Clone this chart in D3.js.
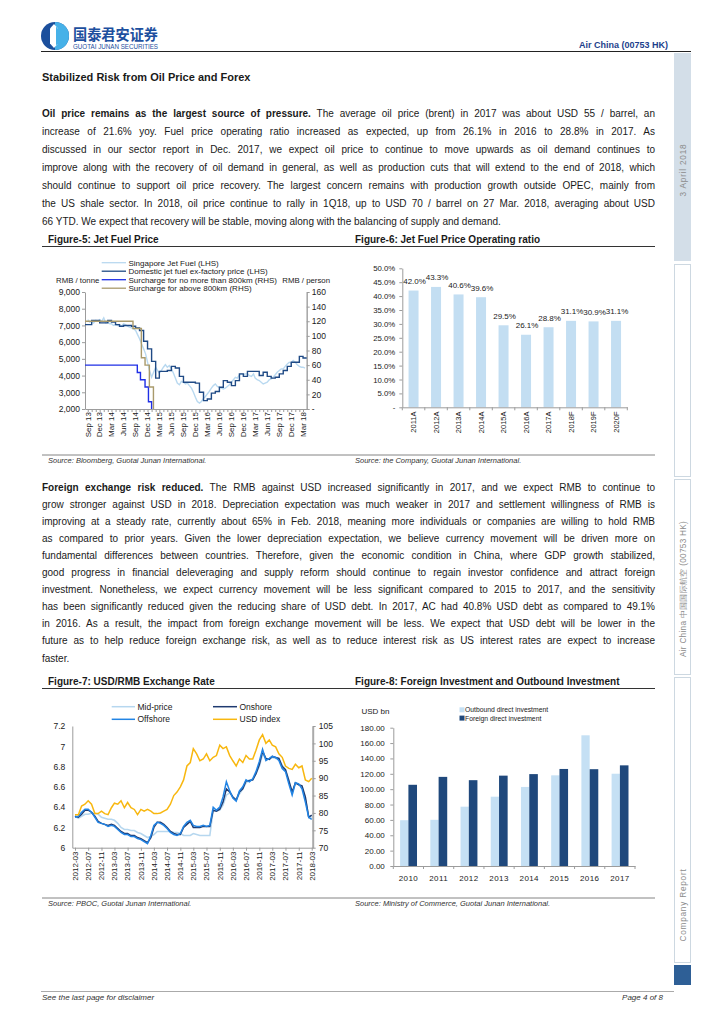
<!DOCTYPE html>
<html><head><meta charset="utf-8">
<script src="https://cdn.jsdelivr.net/npm/d3@7"></script>
<style>
html,body{margin:0;padding:0;background:#fff;}
svg{display:block;font-family:'Liberation Sans',Arial,Helvetica,sans-serif;}
text{white-space:pre;}
</style></head><body>
<svg id="page" width="724" height="1024"></svg>
<script>
// ================= DATA =================
// Figure-5: Jet fuel price
const f5TickLabels = ["Sep 13","Dec 13","Mar 14","Jun 14","Sep 14","Dec 14","Mar 15","Jun 15","Sep 15","Dec 15","Mar 16","Jun 16","Sep 16","Dec 16","Mar 17","Jun 17","Sep 17","Dec 17","Mar 18"];
// Singapore jet fuel (LHS), RMB/tonne, two readings per month (1st, 16th) from Sep 2013
const sgJetFuel = [7350,7200, 7250,7150, 7300,7250, 7350,7250, 7450,7150, 7200,7100, 7100,7000, 7050,7000, 7050,6950, 7100,7050, 6950,6900, 6850,6800,
  6700,6450, 6200,5900, 5600,5300, 4800,4300, 3900,4200, 4500,4300, 4150,4300, 4500,4650, 4500,4600, 4400,4150, 3850,3550, 3450,3650,
  3600,3500, 3550,3400, 3250,3000, 2700,2450, 2350,2450, 2650,2750, 2900,3050, 3250,3400, 3500,3350, 3300,3250, 3200,3250, 3350,3450,
  3600,3750, 3900,3850, 4050,4100, 4050,4100, 4100,4000, 3950,4100, 3850,3750, 3700,3600, 3500,3550, 3600,3750, 3800,3900, 4050,4200,
  4300,4400, 4400,4550, 4700,4800, 4750,4900, 4800,4650, 4550,4500, 4500,4450];
// Domestic jet fuel ex-factory price (LHS), monthly from Sep 2013
const domesticJetFuel = [7050,7300,7300,7150,7150,7300,7200,7050,6950,7000,7000,6950,6850,6700,6050,5600,4850,3850,4250,4250,
  4300,4550,4450,3950,3600,3600,3600,3550,3000,2500,2600,2950,3050,3300,3700,3600,3400,3700,4100,3950,
  4250,4250,4250,4000,4200,3950,3850,3900,4100,4300,4550,4800,4800,5150,5050];
// Fuel surcharges (RHS), RMB/person, step changes
const surchargeShortDates = ["2013-08-11","2014-09-14","2014-10-08","2014-11-12","2014-12-08","2015-01-01"];
const surchargeShort = [60,50,40,30,10,0];
const surchargeLongDates = ["2013-08-11","2014-08-12","2014-10-15","2014-11-12","2014-12-15","2015-01-15"];
const surchargeLong = [120,110,70,60,30,0];

// Figure-6: Jet fuel price operating ratio (%)
const f6Years = ["2011A","2012A","2013A","2014A","2015A","2016A","2017A","2018F","2019F","2020F"];
const f6Ratio = [42.0,43.3,40.6,39.6,29.5,26.1,28.8,31.1,30.9,31.1];

// Figure-7: USD/RMB exchange rate, monthly from Mar 2012 to Mar 2018
const f7TickLabels = ["2012-03","2012-07","2012-11","2013-03","2013-07","2013-11","2014-03","2014-07","2014-11","2015-03","2015-07","2015-11","2016-03","2016-07","2016-11","2017-03","2017-07","2017-11","2018-03"];
const midPrice = [6.31,6.29,6.31,6.33,6.33,6.34,6.34,6.33,6.30,6.29,6.28,6.28,6.27,6.24,6.20,6.18,6.18,6.17,6.17,6.15,6.14,6.12,6.10,6.11,
  6.13,6.16,6.16,6.16,6.16,6.16,6.15,6.15,6.14,6.12,6.12,6.12,6.14,6.13,6.12,6.12,6.12,6.12,6.37,6.36,6.37,6.42,6.52,6.54,
  6.50,6.47,6.53,6.58,6.64,6.67,6.67,6.73,6.80,6.92,6.88,6.87,6.89,6.88,6.88,6.81,6.77,6.67,6.53,6.64,6.62,6.60,6.48,6.31,6.30];
const onshore = [6.31,6.30,6.33,6.37,6.37,6.35,6.31,6.26,6.24,6.23,6.22,6.23,6.22,6.19,6.16,6.14,6.14,6.12,6.12,6.10,6.09,6.07,6.05,6.10,
  6.20,6.25,6.25,6.23,6.20,6.16,6.14,6.13,6.13,6.20,6.23,6.26,6.20,6.20,6.20,6.21,6.21,6.21,6.37,6.36,6.38,6.45,6.58,6.55,
  6.50,6.47,6.55,6.58,6.66,6.66,6.67,6.73,6.82,6.95,6.88,6.87,6.90,6.89,6.88,6.80,6.77,6.66,6.55,6.64,6.62,6.61,6.50,6.30,6.32];
const offshore = [6.30,6.31,6.35,6.38,6.38,6.35,6.30,6.25,6.24,6.23,6.21,6.22,6.21,6.18,6.15,6.13,6.13,6.11,6.11,6.09,6.08,6.06,6.04,6.12,
  6.22,6.25,6.24,6.22,6.19,6.15,6.13,6.12,6.14,6.21,6.25,6.27,6.22,6.21,6.21,6.22,6.21,6.22,6.40,6.37,6.40,6.50,6.65,6.56,
  6.49,6.46,6.56,6.60,6.67,6.65,6.68,6.75,6.85,6.97,6.86,6.88,6.90,6.89,6.86,6.78,6.75,6.63,6.52,6.64,6.63,6.58,6.45,6.30,6.28];
const usdIndex = [79.5,79.5,82.0,82.5,83.5,82.5,79.8,79.8,80.5,79.8,79.5,81.5,82.8,82.5,83.5,81.5,83.0,81.5,81.0,79.5,81.0,80.5,81.0,80.5,
  79.8,79.8,80.0,80.5,81.0,82.5,85.0,86.0,87.5,89.5,93.5,94.5,98.5,97.0,95.0,95.5,97.0,95.0,96.0,96.5,99.5,98.5,99.0,96.5,
  95.0,93.5,95.5,94.5,96.5,95.5,95.5,98.0,101.0,102.5,100.0,101.0,99.5,99.0,97.0,96.0,93.5,92.8,92.5,94.0,93.0,93.5,89.5,89.0,90.0];

// Figure-8: Foreign investment and outbound investment (USD bn)
const f8Years = ["2010","2011","2012","2013","2014","2015","2016","2017"];
const outboundDI = [59.6,60.1,77.2,90.2,102.9,118.0,170.1,120.1];
const foreignDI = [105.7,116.0,111.7,117.6,119.6,126.3,126.0,131.0];

// Text
const para1 = [
 {b:"Oil price remains as the largest source of pressure.", t:" The average oil price (brent) in 2017 was about USD 55 / barrel, an"},
 {t:"increase of 21.6% yoy. Fuel price operating ratio increased as expected, up from 26.1% in 2016 to 28.8% in 2017. As"},
 {t:"discussed in our sector report in Dec. 2017, we expect oil price to continue to move upwards as oil demand continues to"},
 {t:"improve along with the recovery of oil demand in general, as well as production cuts that will extend to the end of 2018, which"},
 {t:"should continue to support oil price recovery. The largest concern remains with production growth outside OPEC, mainly from"},
 {t:"the US shale sector. In 2018, oil price continue to rally in 1Q18, up to USD 70 / barrel on 27 Mar. 2018, averaging about USD"},
 {t:"66 YTD. We expect that recovery will be stable, moving along with the balancing of supply and demand."}
];
const para2 = [
 {b:"Foreign exchange risk reduced.", t:" The RMB against USD increased significantly in 2017, and we expect RMB to continue to"},
 {t:"grow stronger against USD in 2018. Depreciation expectation was much weaker in 2017 and settlement willingness of RMB is"},
 {t:"improving at a steady rate, currently about 65% in Feb. 2018, meaning more individuals or companies are willing to hold RMB"},
 {t:"as compared to prior years. Given the lower depreciation expectation, we believe currency movement will be driven more on"},
 {t:"fundamental differences between countries. Therefore, given the economic condition in China, where GDP growth stabilized,"},
 {t:"good progress in financial deleveraging and supply reform should continue to regain investor confidence and attract foreign"},
 {t:"investment. Nonetheless, we expect currency movement will be less significant compared to 2015 to 2017, and the sensitivity"},
 {t:"has been significantly reduced given the reducing share of USD debt. In 2017, AC had 40.8% USD debt as compared to 49.1%"},
 {t:"in 2016. As a result, the impact from foreign exchange movement will be less. We expect that USD debt will be lower in the"},
 {t:"future as to help reduce foreign exchange risk, as well as to reduce interest risk as US interest rates are expect to increase"},
 {t:"faster."}
];

// ================= DRAWING =================
const svg = d3.select("#page");
const FONT = "'Liberation Sans', Arial, Helvetica, sans-serif";
const CJK = "'Noto Sans CJK SC', sans-serif";
const AX = "#9c9c9c";
const TXT = "#1a1a1a";

function txt(x, y, s, o = {}) {
  const t = svg.append("text").attr("x", x).attr("y", y).text(s)
    .attr("font-size", o.fs || 10).attr("fill", o.fill || TXT);
  if (o.bold) t.attr("font-weight", "bold");
  if (o.italic) t.attr("font-style", "italic");
  if (o.anchor) t.attr("text-anchor", o.anchor);
  if (o.ls) t.attr("letter-spacing", o.ls);
  if (o.family) t.attr("font-family", o.family);
  return t;
}
function hline(x1, x2, y, c, w) {
  svg.append("line").attr("x1", x1).attr("x2", x2).attr("y1", y).attr("y2", y)
    .attr("stroke", c).attr("stroke-width", w);
}
function styleAxis(g, fs) {
  g.attr("font-family", FONT).attr("font-size", fs);
  g.select(".domain").attr("stroke", AX);
  g.selectAll(".tick line").attr("stroke", AX);
  g.selectAll(".tick text").attr("fill", TXT);
}

// ---------- Header ----------
const lg = svg.append("g").attr("transform", "translate(55,36)");
lg.append("circle").attr("r", 14).attr("fill", "#1b4f9c");
lg.append("path").attr("d", "M0,-14 A14,14 0 0,1 0,14 Z").attr("fill", "#46b1e8");
lg.append("path").attr("d", "M-1,-12 L3,-7.5 L3,7.5 L-1,12 L-5,7.5 L-5,-7.5 Z").attr("fill", "#fff");
lg.append("path").attr("d", "M1,-9.5 L3,-7.5 L3,7.5 L1,9.5 Z").attr("fill", "#46b1e8");
txt(73, 40, "国泰君安证券", {fs: 15, bold: true, fill: "#1d4f9e", family: CJK}).attr("textLength", 85).attr("lengthAdjust", "spacingAndGlyphs");
txt(73, 49, "GUOTAI JUNAN SECURITIES", {fs: 6.3, fill: "#1d4f9e"}).attr("textLength", 85).attr("lengthAdjust", "spacingAndGlyphs");
txt(668, 48, "Air China (00753 HK)", {fs: 9, bold: true, fill: "#1d3f8c", anchor: "end"});
hline(41, 691, 51.5, "#222", 1);

// ---------- Sidebar ----------
svg.append("rect").attr("x", 674).attr("y", 53).attr("width", 17).attr("height", 208).attr("fill", "#d3dee8");
[[264.5, 212], [479.5, 195], [677.5, 285]].forEach(([y, h]) => {
  svg.append("rect").attr("x", 674.5).attr("y", y).attr("width", 16).attr("height", h)
    .attr("fill", "none").attr("stroke", "#cdd8e1").attr("stroke-width", 1);
});
svg.append("rect").attr("x", 674).attr("y", 965).attr("width", 17).attr("height", 20).attr("fill", "#2e5f96");
[["3 April 2018", 170, 0.8], ["Air China 中国国际航空 (00753 HK)", 589, 0.3], ["Company Report", 905, 0.8]].forEach(([s, y, ls]) => {
  svg.append("text").attr("transform", `translate(685.5,${y}) rotate(-90)`).attr("text-anchor", "middle")
    .attr("font-size", 8.2).attr("letter-spacing", ls).attr("fill", "#8c8c8c").text(s);
});

// ---------- Body text ----------
txt(42, 81, "Stabilized Risk from Oil Price and Forex", {fs: 11, bold: true});
function para(lines, x, y0, lh, width) {
  lines.forEach((ln, i) => {
    const t = svg.append("text").attr("x", x).attr("y", y0 + i * lh).attr("font-size", 10).attr("fill", TXT);
    if (ln.b) t.append("tspan").attr("font-weight", "bold").text(ln.b);
    t.append("tspan").text(ln.t);
    if (i < lines.length - 1) {
      const len = t.node().getComputedTextLength();
      const full = (ln.b || "") + ln.t;
      const n = (full.match(/ /g) || []).length;
      t.attr("word-spacing", ((width - len) / n).toFixed(3));
    }
  });
}
para(para1, 42, 116.5, 18, 613);
para(para2, 42, 490.5, 17.1, 613);

// figure captions and separators
txt(48, 242.5, "Figure-5: Jet Fuel Price", {fs: 10, bold: true});
txt(355, 242.5, "Figure-6: Jet Fuel Price Operating ratio", {fs: 10, bold: true});
hline(42, 655, 246.5, "#333", 1);
hline(42, 655, 455, "#666", 0.8);
txt(48, 463, "Source: Bloomberg, Guotai Junan International.", {fs: 7.5, italic: true, fill: "#333"});
txt(355, 463, "Source: the Company, Guotai Junan International.", {fs: 7.5, italic: true, fill: "#333"});

txt(48, 684.5, "Figure-7: USD/RMB Exchange Rate", {fs: 10, bold: true});
txt(355, 684.5, "Figure-8: Foreign Investment and Outbound Investment", {fs: 10, bold: true});
hline(42, 655, 688.5, "#333", 1);
hline(42, 655, 898, "#666", 0.8);
txt(48, 906, "Source: PBOC, Guotai Junan International.", {fs: 7.5, italic: true, fill: "#333"});
txt(355, 906, "Source: Ministry of Commerce, Guotai Junan International.", {fs: 7.5, italic: true, fill: "#333"});

// footer
hline(41, 674, 991.5, "#aaa", 1);
txt(42, 1000, "See the last page for disclaimer", {fs: 8, italic: true, fill: "#333"});
txt(663, 1000, "Page 4 of 8", {fs: 8, italic: true, fill: "#333", anchor: "end"});

// legend helper
function legLine(g, x1, x2, y, color, label, w, fs) {
  g.append("line").attr("x1", x1).attr("x2", x2).attr("y1", y).attr("y2", y).attr("stroke", color).attr("stroke-width", w || 1.3);
  g.append("text").attr("x", x2 + 2.5).attr("y", y + 3).attr("font-size", fs || 8.5).attr("fill", TXT).text(label);
}

// ---------- Figure 5 ----------
{
  const g = svg.append("g");
  const x = d3.scaleTime().domain([new Date(2013, 7, 11), new Date(2018, 2, 29)]).range([85, 306.7]);
  const yL = d3.scaleLinear().domain([2000, 9000]).range([409, 292]);
  const yR = d3.scaleLinear().domain([0, 160]).range([409, 292]);
  const parseD = d3.timeParse("%Y-%m-%d");
  const parseL = d3.timeParse("%b %y");

  g.append("g").attr("transform", "translate(85,0)")
    .call(d3.axisLeft(yL).tickValues(d3.range(2000, 9001, 1000)).tickSize(3).tickSizeOuter(0).tickPadding(2).tickFormat(d3.format(",")))
    .call(a => styleAxis(a, 8.5));
  const ar = g.append("g").attr("transform", "translate(306.7,0)")
    .call(d3.axisRight(yR).tickValues(d3.range(0, 161, 20)).tickSize(3).tickSizeOuter(0).tickPadding(2).tickFormat(d => d === 0 ? "-" : d))
    .call(a => styleAxis(a, 8.5));
  ar.select(".domain").attr("stroke-width", 1.6).attr("stroke", "#aaa");
  const months = d3.timeMonth.range(new Date(2013, 7, 1), new Date(2018, 3, 1)).filter(d => x(d) >= 85);
  g.append("g").attr("transform", "translate(0,409)")
    .call(d3.axisBottom(x).tickValues(months).tickSize(3).tickSizeOuter(0).tickFormat(""))
    .call(a => styleAxis(a, 8));
  g.selectAll(".xl").data(f5TickLabels).join("text")
    .attr("transform", d => `translate(${x(parseL(d))},412) rotate(-90)`)
    .attr("text-anchor", "end").attr("dy", "0.35em").attr("font-size", 8).attr("fill", TXT).text(d => d);

  // series
  const sgDates = [];
  d3.timeMonth.range(new Date(2013, 8, 1), new Date(2018, 3, 1)).forEach(m => { sgDates.push(m); sgDates.push(d3.timeDay.offset(m, 15)); });
  const sg = sgJetFuel.map((v, i) => ({d: sgDates[i], v}));
  g.append("path").datum(sg).attr("fill", "none").attr("stroke", "#b9d9f0").attr("stroke-width", 1.4)
    .attr("d", d3.line().x(d => x(d.d)).y(d => yL(d.v)));

  const domMonths = d3.timeMonth.range(new Date(2013, 8, 1), new Date(2018, 3, 1));
  const dom = domesticJetFuel.map((v, i) => ({d: domMonths[i], v}));
  dom.unshift({d: x.domain()[0], v: domesticJetFuel[0]});
  dom.push({d: x.domain()[1], v: domesticJetFuel[domesticJetFuel.length - 1]});
  g.append("path").datum(dom).attr("fill", "none").attr("stroke", "#1f4a85").attr("stroke-width", 1.4)
    .attr("d", d3.line().curve(d3.curveStepAfter).x(d => x(d.d)).y(d => yL(d.v)));

  const sShort = surchargeShort.map((v, i) => ({d: parseD(surchargeShortDates[i]), v}));
  g.append("path").datum(sShort).attr("fill", "none").attr("stroke", "#1f2fe6").attr("stroke-width", 1.4)
    .attr("d", d3.line().curve(d3.curveStepAfter).x(d => x(d.d)).y(d => yR(d.v)));
  const sLong = surchargeLong.map((v, i) => ({d: parseD(surchargeLongDates[i]), v}));
  g.append("path").datum(sLong).attr("fill", "none").attr("stroke", "#a99a6b").attr("stroke-width", 1.4)
    .attr("d", d3.line().curve(d3.curveStepAfter).x(d => x(d.d)).y(d => yR(d.v)));

  // legend
  legLine(g, 101.7, 126, 262.7, "#b9d9f0", "Singapore Jet Fuel (LHS)", 1.3, 8);
  legLine(g, 101.7, 126, 271.2, "#1f4a85", "Domestic jet fuel ex-factory price (LHS)", 1.3, 8);
  legLine(g, 101.7, 126, 279.7, "#1f2fe6", "Surcharge for no more than 800km (RHS)", 1.3, 8);
  legLine(g, 101.7, 126, 288.2, "#a99a6b", "Surcharge for above 800km (RHS)", 1.3, 8);
  g.append("text").attr("x", 56).attr("y", 282.5).attr("font-size", 7.8).attr("fill", TXT).text("RMB / tonne");
  g.append("text").attr("x", 330).attr("y", 282.7).attr("font-size", 7.8).attr("fill", TXT).attr("text-anchor", "end").text("RMB / person");
}

// ---------- Figure 6 ----------
{
  const g = svg.append("g");
  const x = d3.scaleBand().domain(f6Years).range([402.3, 627.3]);
  const y = d3.scaleLinear().domain([0, 50]).range([407.3, 268.3]);
  g.append("g").attr("transform", "translate(402.3,0)")
    .call(d3.axisLeft(y).tickValues(d3.range(0, 51, 5)).tickSize(3).tickSizeOuter(0).tickPadding(4)
      .tickFormat(d => d === 0 ? "-" : d3.format(".1f")(d) + "%"))
    .call(a => styleAxis(a, 7.8));
  g.selectAll(".bar").data(f6Years).join("rect")
    .attr("x", d => x(d) + x.bandwidth() / 2 - 5).attr("width", 10)
    .attr("y", (d, i) => y(f6Ratio[i])).attr("height", (d, i) => y(0) - y(f6Ratio[i]))
    .attr("fill", "#c3def2");
  g.append("g").attr("transform", "translate(0,407.3)")
    .call(d3.axisBottom(x).tickSize(0).tickSizeOuter(0).tickFormat(""))
    .call(a => styleAxis(a, 8));
  g.selectAll(".bt").data(f6Years.concat(["end"])).join("line")
    .attr("x1", (d, i) => 402.3 + i * x.step()).attr("x2", (d, i) => 402.3 + i * x.step())
    .attr("y1", 407.3).attr("y2", 410.3).attr("stroke", AX);
  g.selectAll(".vl").data(f6Years).join("text")
    .attr("x", d => x(d) + x.bandwidth() / 2 + 1).attr("y", (d, i) => y(f6Ratio[i]) - 6.5)
    .attr("text-anchor", "middle").attr("font-size", 8).attr("fill", TXT)
    .text((d, i) => d3.format(".1f")(f6Ratio[i]) + "%");
  g.selectAll(".xl").data(f6Years).join("text")
    .attr("transform", d => `translate(${x(d) + x.bandwidth() / 2},411.5) rotate(-90)`)
    .attr("text-anchor", "end").attr("dy", "0.35em").attr("font-size", 7.5).attr("fill", TXT).text(d => d);
}

// ---------- Figure 7 ----------
{
  const g = svg.append("g");
  const x = d3.scaleTime().domain([new Date(2012, 1, 5), new Date(2018, 2, 10)]).range([72.3, 312.7]);
  const yL = d3.scaleLinear().domain([6, 7.2]).range([847.7, 726]);
  const yR = d3.scaleLinear().domain([70, 105]).range([847.7, 726]);
  const parseM = d3.timeParse("%Y-%m");

  g.append("g").attr("transform", "translate(72.3,0)")
    .call(d3.axisLeft(yL).tickValues([6, 6.2, 6.4, 6.6, 6.8, 7, 7.2]).tickSize(0).tickSizeOuter(0).tickPadding(7)
      .tickFormat(d => String(+d.toFixed(1))))
    .call(a => styleAxis(a, 8.5));
  const ar = g.append("g").attr("transform", "translate(312.7,0)")
    .call(d3.axisRight(yR).tickValues(d3.range(70, 106, 5)).tickSize(3).tickSizeOuter(0).tickPadding(3))
    .call(a => styleAxis(a, 8.5));
  ar.select(".domain").attr("stroke-width", 2).attr("stroke", "#aaa");
  const tickDates = f7TickLabels.map(parseM);
  g.append("g").attr("transform", "translate(0,847.7)")
    .call(d3.axisBottom(x).tickValues(tickDates).tickSize(3).tickSizeOuter(0).tickFormat(""))
    .call(a => styleAxis(a, 8));
  g.selectAll(".xl").data(f7TickLabels).join("text")
    .attr("transform", d => `translate(${x(parseM(d))},851.5) rotate(-90)`)
    .attr("text-anchor", "end").attr("dy", "0.35em").attr("font-size", 8).attr("fill", TXT).text(d => d);

  const fxDates = d3.timeMonth.range(new Date(2012, 2, 1), new Date(2018, 3, 1));
  const mk = arr => arr.map((v, i) => ({d: fxDates[i], v}));
  const lineL = d3.line().x(d => x(d.d)).y(d => yL(d.v));
  const lineR = d3.line().x(d => x(d.d)).y(d => yR(d.v));
  g.append("path").datum(mk(midPrice)).attr("fill", "none").attr("stroke", "#b6d7ef").attr("stroke-width", 1.6).attr("d", lineL);
  g.append("path").datum(mk(onshore)).attr("fill", "none").attr("stroke", "#1f3a70").attr("stroke-width", 1.5).attr("d", lineL);
  g.append("path").datum(mk(offshore)).attr("fill", "none").attr("stroke", "#2284e4").attr("stroke-width", 1.5).attr("d", lineL);
  g.append("path").datum(mk(usdIndex)).attr("fill", "none").attr("stroke", "#f8b70f").attr("stroke-width", 1.5).attr("d", lineR);

  legLine(g, 111.7, 135, 706.7, "#b6d7ef", "Mid-price", 1.5);
  legLine(g, 213, 237, 706.7, "#1f3a70", "Onshore", 1.5);
  legLine(g, 111.7, 135, 719.3, "#2284e4", "Offshore", 1.5);
  legLine(g, 213, 237, 719.3, "#f8b70f", "USD index", 1.5);
}

// ---------- Figure 8 ----------
{
  const g = svg.append("g");
  const x = d3.scaleBand().domain(f8Years).range([393.3, 635]);
  const y = d3.scaleLinear().domain([0, 180]).range([866, 727.7]);
  g.append("g").attr("transform", "translate(393.3,0)")
    .call(d3.axisLeft(y).tickValues(d3.range(0, 181, 20)).tickSize(3).tickSizeOuter(0).tickPadding(5.5).tickFormat(d3.format(".2f")))
    .call(a => styleAxis(a, 8));
  const c = d => x(d) + x.bandwidth() / 2;
  g.selectAll(".ob").data(f8Years).join("rect")
    .attr("x", d => c(d) - 8.3).attr("width", 8.3)
    .attr("y", (d, i) => y(outboundDI[i])).attr("height", (d, i) => y(0) - y(outboundDI[i]))
    .attr("fill", "#c5e0f4");
  g.selectAll(".fb").data(f8Years).join("rect")
    .attr("x", d => c(d)).attr("width", 8.6)
    .attr("y", (d, i) => y(foreignDI[i])).attr("height", (d, i) => y(0) - y(foreignDI[i]))
    .attr("fill", "#1f487c");
  g.append("g").attr("transform", "translate(0,866)")
    .call(d3.axisBottom(x).tickSize(0).tickSizeOuter(0).tickFormat(""))
    .call(a => styleAxis(a, 8));
  g.selectAll(".bt").data(f8Years.concat(["end"])).join("line")
    .attr("x1", (d, i) => 393.3 + i * x.step()).attr("x2", (d, i) => 393.3 + i * x.step())
    .attr("y1", 866).attr("y2", 869).attr("stroke", AX);
  g.selectAll(".xl").data(f8Years).join("text")
    .attr("x", d => c(d)).attr("y", 881).attr("text-anchor", "middle")
    .attr("font-size", 8).attr("letter-spacing", 0.4).attr("fill", TXT).text(d => d);

  g.append("text").attr("x", 361.5).attr("y", 713.5).attr("font-size", 8).attr("fill", TXT).text("USD bn");
  g.append("rect").attr("x", 459.5).attr("y", 707.3).attr("width", 5).attr("height", 5).attr("fill", "#c5e0f4");
  g.append("rect").attr("x", 459.5).attr("y", 715.6).attr("width", 5).attr("height", 5).attr("fill", "#1f487c");
  g.append("text").attr("x", 465).attr("y", 712.3).attr("font-size", 6.8).attr("fill", TXT).text("Outbound direct investment");
  g.append("text").attr("x", 465).attr("y", 720.6).attr("font-size", 6.8).attr("fill", TXT).text("Foreign direct investment");
}
</script></body></html>
